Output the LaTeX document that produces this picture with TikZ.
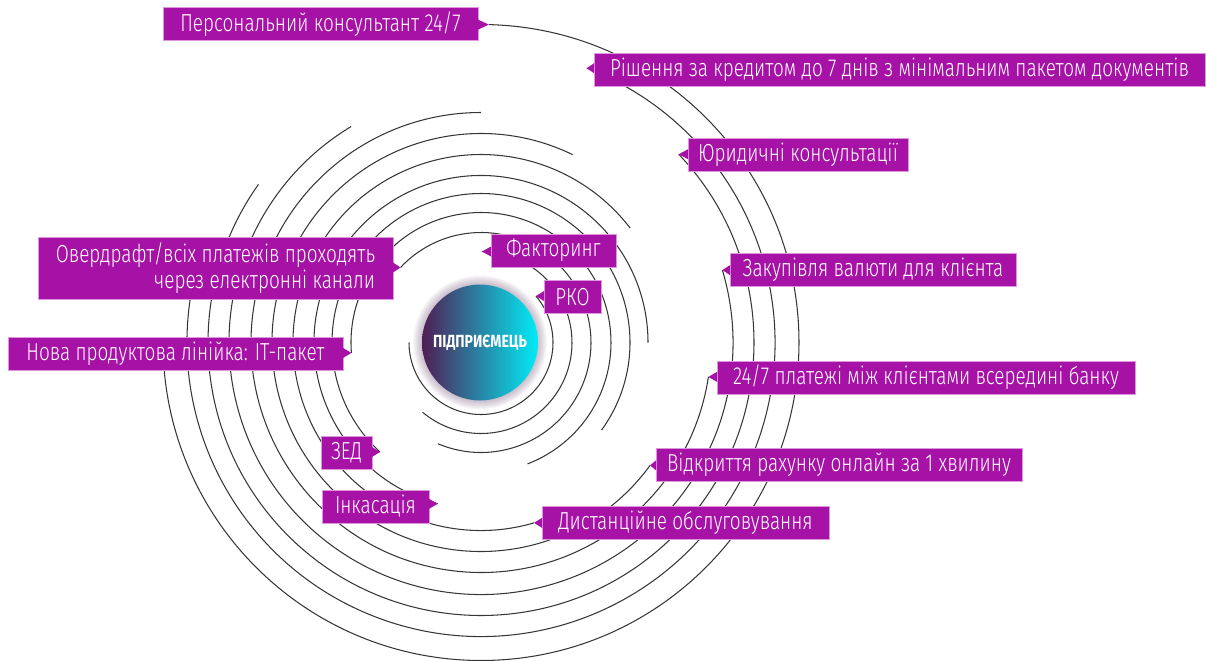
\documentclass[tikz,border=0pt]{standalone}
\usepackage{fontspec}
\setmainfont{Fira Sans Light}[FakeStretch=0.77]
\newfontfamily\hubfont{Fira Sans}[FakeStretch=0.8]
\usetikzlibrary{calc}
\definecolor{lblfill}{RGB}{166,18,166}
\definecolor{lbledge}{RGB}{222,150,222}
\definecolor{ringc}{RGB}{55,55,55}
\definecolor{hubleft}{RGB}{80,30,85}
\definecolor{hubright}{RGB}{0,236,246}
\definecolor{haloc}{RGB}{120,90,125}
% small triangle from a label box to the end of its ring
\newcommand\pointer[3]{\fill[lblfill] ($(#1.#2 |- #3)+(0,5)$) -- (#3) -- ($(#1.#2 |- #3)+(0,-5)$) -- cycle;}
\begin{document}
\begin{tikzpicture}[x=0.02cm, y=0.02cm,
    ring/.style={draw=ringc, line width=0.6pt},
    lbl/.style={fill=lblfill, draw=lbledge, line width=0.4pt, text=white,
      font=\fontsize{14}{13}\selectfont, inner xsep=0.2cm, inner ysep=0pt,
      minimum height=0.66cm, outer sep=0pt},
    wd/.style={minimum width=#1*0.02cm}]
    \useasboundingbox (-481,-317.5) rectangle (725,342.5);
    % rings: number / radius / start angle / end angle
    \foreach \n/\r/\a/\b in {1/72/40.2/-180, 2/91/89.4/-130, 3/110/137/-113,
        4/130/184.6/-69, 5/149/227.3/-36, 6/167/255/0, 7/188/-73.6/-322.5,
        8/209/-36/-296, 9/230/-8.6/-270, 10/252/16.7/-239, 11/273/43.6/-215.4,
        12/294/68.9/-195, 13/318/88.6/-178}
      \draw[ring] (\a:\r) coordinate (t\n) arc[start angle=\a, end angle=\b, radius=\r];
    % hub with soft halo
    \foreach \i in {1,...,9} \fill[haloc, opacity=0.05] (-1,0) circle[radius=58+\i];
    \node[circle, minimum size=116*0.02cm, inner sep=0pt, left color=hubleft, right color=hubright,
      text=white, font=\hubfont\bfseries\fontsize{10}{12}\selectfont] (hub) at (-1,0) {ПІДПРИЄМЕЦЬ};
    % labels
    \node[lbl, wd=315, anchor=east] (pers) at (-3,318.5) {Персональний консультант 24/7};
    \node[lbl, wd=611, anchor=west] (credit) at (113,273) {Рішення за кредитом до 7 днів з мінімальним пакетом документів};
    \node[lbl, wd=220, anchor=west] (legal) at (207,187.5) {Юридичні консультації};
    \node[lbl, wd=286, anchor=west] (fx) at (249,73) {Закупівля валюти для клієнта};
    \node[lbl, wd=418, anchor=west] (pay) at (236,-35) {24/7 платежі між клієнтами всередині банку};
    \node[lbl, wd=366, anchor=west] (open) at (175,-122.5) {Відкриття рахунку онлайн за 1 хвилину};
    \node[lbl, wd=287, anchor=west] (remote) at (61,-180) {Дистанційне обслуговування};
    \node[lbl, wd=107, anchor=east] (cash) at (-52,-164) {Інкасація};
    \node[lbl, wd=51, anchor=east] (zed) at (-109,-110.5) {ЗЕД};
    \node[lbl, wd=335, anchor=east] (itpack) at (-138,-11) {Нова продуктова лінійка: IT-пакет};
    \node[lbl, wd=355, minimum height=62*0.02cm, align=right, anchor=east] (overdr) at (-88,74.5)
      {Овердрафт/всіх платежів проходять\\через електронні канали};
    \node[lbl, wd=125, anchor=west] (fact) at (10,92) {Факторинг};
    \node[lbl, wd=57, anchor=west] (rko) at (63,45.5) {РКО};
    % pointers to the ring ends
    \pointer{pers}{east}{t13}
    \pointer{credit}{west}{t12}
    \pointer{legal}{west}{t11}
    \pointer{fx}{west}{t10}
    \pointer{pay}{west}{t9}
    \pointer{open}{west}{t8}
    \pointer{remote}{west}{t7}
    \pointer{cash}{east}{t6}
    \pointer{zed}{east}{t5}
    \pointer{itpack}{east}{t4}
    \pointer{overdr}{east}{t3}
    \pointer{fact}{west}{t2}
    \pointer{rko}{west}{t1}
\end{tikzpicture}
\end{document}
